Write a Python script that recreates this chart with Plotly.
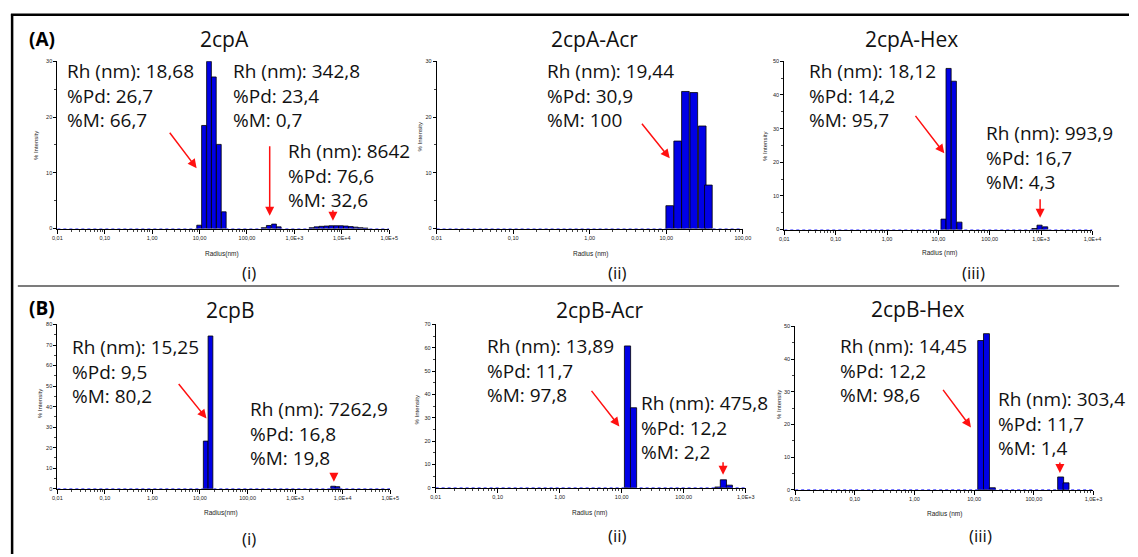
import numpy as np
import plotly.graph_objects as go

OX, OY = 0, 0
W, H = 1138, 557

# ---------------- data ----------------
# (A)(i) 2cpA
a1_radius = [9.8, 12.4, 15.8, 20.0, 25.5, 32.4,
             224, 288, 372, 468,
             2291, 2911, 3698, 4699, 5970, 7586, 9638, 12246, 15560, 19770, 25119, 31915]
a1_int = [0.6, 18.5, 30.0, 27.2, 15.1, 3.0,
          0.15, 0.55, 0.8, 0.3,
          0.15, 0.3, 0.4, 0.45, 0.5, 0.5, 0.5, 0.45, 0.35, 0.25, 0.15, 0.08]
# (A)(ii) 2cpA-Acr
a2_radius = [11.1, 14.1, 17.8, 22.9, 29.5, 35.5]
a2_int = [4.1, 15.7, 24.6, 24.4, 18.4, 7.8]
# (A)(iii) 2cpA-Hex
a3_radius = [12.6, 15.8, 20.0, 25.7, 741, 933, 1202]
a3_int = [3.1, 47.9, 44.1, 2.2, 0.3, 1.3, 0.8]
# (B)(i) 2cpB
b1_radius = [13.2, 16.6, 6310, 7762]
b1_int = [23.2, 74.4, 1.2, 1.0]
# (B)(ii) 2cpB-Acr
b2_radius = [12.4, 15.5, 355, 436, 543]
b2_int = [60.8, 34.3, 0.3, 3.4, 1.1]
# (B)(iii) 2cpB-Hex
b3_radius = [12.9, 16.1, 20.2, 282, 347]
b3_int = [45.7, 47.8, 0.6, 3.9, 2.1]

tick_values = [0.01, 0.1, 1, 10, 100, 1e3, 1e4, 1e5]
tick_labels = ["0,01", "0,10", "1,00", "10,00", "100,00", "1,0E+3", "1,0E+4", "1,0E+5"]

titles = ["2cpA", "2cpA-Acr", "2cpA-Hex", "2cpB", "2cpB-Acr", "2cpB-Hex"]
sublabels = ["(i)", "(ii)", "(iii)", "(i)", "(ii)", "(iii)"]
xtitles = ["Radius(nm)", "Radius (nm)", "Radius (nm)", "Radius(nm)", "Radius (nm)", "Radius (nm)"]

labels_text = [
    [("18,68", "26,7", "66,7"), ("342,8", "23,4", "0,7"), ("8642", "76,6", "32,6")],
    [("19,44", "30,9", "100")],
    [("18,12", "14,2", "95,7"), ("993,9", "16,7", "4,3")],
    [("15,25", "9,5", "80,2"), ("7262,9", "16,8", "19,8")],
    [("13,89", "11,7", "97,8"), ("475,8", "12,2", "2,2")],
    [("14,45", "12,2", "98,6"), ("303,4", "11,7", "1,4")],
]

radii = [a1_radius, a2_radius, a3_radius, b1_radius, b2_radius, b3_radius]
intens = [a1_int, a2_int, a3_int, b1_int, b2_int, b3_int]
n_decade_ticks = [8, 5, 7, 8, 6, 6]
y_max = [30, 30, 50, 80, 70, 50]

# ---------------- layout geometry (page pixels) ----------------
boxes = [(53, 389, 59, 228), (437, 747, 59, 228), (789, 1101, 59, 229),
         (53, 390, 325, 491), (436, 750, 325, 490), (800, 1102, 327, 492)]
title_pos = [(222, 36), (597, 36), (918, 36), (228, 310), (602, 310), (924, 309)]
sub_pos = [(247, 272), (620, 272), (981, 272), (247, 541), (620, 538), (988, 538)]
xt_pos = [(220, 254), (593, 254), (946, 253), (219, 516), (592, 516), (951, 517)]
yt_pos = [(32, 144), (420, 135), (770, 145), (35, 405), (417, 411), (783, 406)]
text_pos = [[(62, 93.5), (230, 93.5), (286, 174)],
            [(548, 93.5)],
            [(813, 93.5), (992, 156)],
            [(67, 373), (247, 435)],
            [(487, 371), (643, 429)],
            [(844, 371), (1004, 425)]]
arrows = [(166, 130, 194, 167), (268, 144, 268, 215), (332, 208, 332, 220),
          (644, 121, 673, 157),
          (921, 113, 951, 152), (1048, 197, 1048, 217),
          (175, 384, 204, 420), (333, 475, 333, 484),
          (593, 391, 622, 428), (727, 463, 727, 477),
          (949, 390, 978, 429), (1068, 463, 1068, 475)]


def px(x):
    return (x - OX) / W


def py(y):
    return 1 - (y - OY) / H


TXT_FONT = "Open Sans"
TICK_FONT = "Liberation Sans"

fig = go.Figure()
layout = dict(width=W, height=H, margin=dict(l=0, r=0, t=0, b=0),
              paper_bgcolor="white", plot_bgcolor="white", showlegend=False)
annotations = []
shapes = []

for i in range(6):
    sfx = "" if i == 0 else str(i + 1)
    x0, x1, yt, yb = boxes[i]
    xmax = np.log10(tick_values[n_decade_ticks[i] - 1])
    fig.add_trace(go.Bar(
        x=np.log10(radii[i]), y=intens[i], width=0.1,
        marker=dict(color="#0000E6", line=dict(color="black", width=0.8)),
        xaxis="x" + sfx, yaxis="y" + sfx, hoverinfo="skip"))
    tv = np.log10(tick_values[:n_decade_ticks[i]])
    minor_vals = [np.log10(m * 10.0 ** d) for d in range(-2, int(xmax)) for m in range(2, 10)]
    layout["xaxis" + sfx] = dict(
        domain=[px(x0), px(x1)], range=[-2, xmax], anchor="y" + sfx,
        showline=True, linecolor="black", linewidth=1, showgrid=False, zeroline=False,
        tickmode="array", tickvals=tv, ticktext=tick_labels[:n_decade_ticks[i]],
        ticks="outside", ticklen=4, tickcolor="black", tickwidth=1,
        tickfont=dict(family=TICK_FONT, size=5.5, color="#222"),
        minor=dict(tickvals=minor_vals, ticks="outside", ticklen=2, tickcolor="#444"))
    layout["yaxis" + sfx] = dict(
        domain=[py(yb), py(yt)], range=[0, y_max[i]], anchor="x" + sfx,
        showline=True, linecolor="black", linewidth=1, showgrid=False, zeroline=False,
        dtick=10, ticks="outside", ticklen=3, tickcolor="black",
        tickfont=dict(family=TICK_FONT, size=5.5, color="#222"),
        minor=dict(dtick=5, ticks="outside", ticklen=2, tickcolor="#444"))
    shapes.append(dict(type="line", xref="x" + sfx, yref="y" + sfx, x0=-2, x1=xmax, y0=0, y1=0,
                       line=dict(color="#2020FF", width=1, dash="dot"), layer="above"))
    annotations.append(dict(x=px(title_pos[i][0]), y=py(title_pos[i][1]), xref="paper", yref="paper",
                            text=titles[i], showarrow=False, xanchor="center", yanchor="middle",
                            font=dict(family=TXT_FONT, size=21, color="#111")))
    annotations.append(dict(x=px(sub_pos[i][0]), y=py(sub_pos[i][1]), xref="paper", yref="paper",
                            text=sublabels[i], showarrow=False, xanchor="center", yanchor="middle",
                            font=dict(family=TXT_FONT, size=17, color="#111")))
    annotations.append(dict(x=px(xt_pos[i][0]), y=py(xt_pos[i][1]), xref="paper", yref="paper",
                            text=xtitles[i], showarrow=False, xanchor="center", yanchor="middle",
                            font=dict(family=TICK_FONT, size=6.5, color="#222")))
    annotations.append(dict(x=px(yt_pos[i][0]), y=py(yt_pos[i][1]), xref="paper", yref="paper",
                            text="% Intensity", showarrow=False, xanchor="center", yanchor="middle",
                            textangle=-90, font=dict(family=TICK_FONT, size=6, color="#222")))
    for (rh, pd_, m), (tx, ty) in zip(labels_text[i], text_pos[i]):
        annotations.append(dict(x=px(tx), y=py(ty), xref="paper", yref="paper",
                                text=f"Rh (nm): {rh}<br>%Pd: {pd_}<br>%M: {m}",
                                showarrow=False, xanchor="left", yanchor="middle", align="left",
                                borderpad=0,
                                font=dict(family=TXT_FONT, size=19, color="#111")))

for (tx, ty, hx, hy) in arrows:
    annotations.append(dict(x=px(hx), y=py(hy), xref="paper", yref="paper",
                            ax=tx - hx, ay=ty - hy, axref="pixel", ayref="pixel",
                            text="", showarrow=True, arrowhead=2, arrowsize=1.2,
                            arrowwidth=1.5, arrowcolor="#FF1010", standoff=0))

annotations.append(dict(x=px(37), y=py(36), xref="paper", yref="paper", text="<b>(A)</b>",
                        showarrow=False, xanchor="center", yanchor="middle",
                        font=dict(family=TXT_FONT, size=19, color="black")))
annotations.append(dict(x=px(37), y=py(308), xref="paper", yref="paper", text="<b>(B)</b>",
                        showarrow=False, xanchor="center", yanchor="middle",
                        font=dict(family=TXT_FONT, size=19, color="black")))

# frame lines
shapes.append(dict(type="line", xref="paper", yref="paper", x0=px(6), x1=1, y0=py(12), y1=py(12),
                   line=dict(color="black", width=2.5)))
shapes.append(dict(type="line", xref="paper", yref="paper", x0=px(7.2), x1=px(7.2), y0=py(11), y1=0,
                   line=dict(color="black", width=2.5)))
shapes.append(dict(type="line", xref="paper", yref="paper", x0=px(13), x1=px(1128), y0=py(286), y1=py(286),
                   line=dict(color="#505050", width=1.5)))

layout["annotations"] = annotations
layout["shapes"] = shapes
fig.update_layout(**layout)
fig.write_html("out.html", config={"displayModeBar": False},
               post_script="document.body.style.margin='0';document.body.style.overflow='hidden';")
